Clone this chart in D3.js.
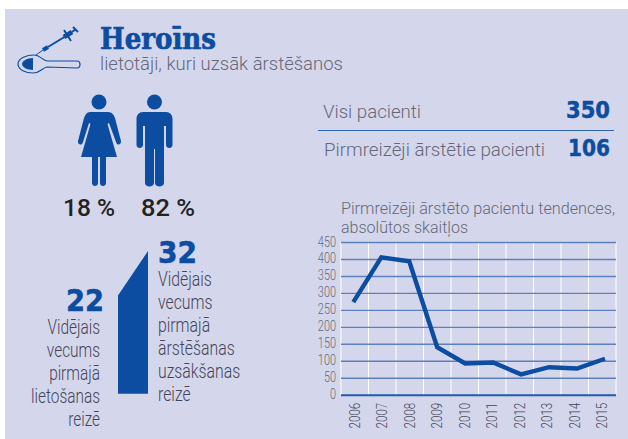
<!DOCTYPE html>
<html><head><meta charset="utf-8">
<script src="https://cdn.jsdelivr.net/npm/d3@7/dist/d3.min.js"></script>
<style>html,body{margin:0;padding:0;background:#fff}svg{display:block}text{font-family:Roboto,sans-serif}</style>
</head><body><div id="c"></div>
<script>
const years=["2006","2007","2008","2009","2010","2011","2012","2013","2014","2015"];
const patients=[273,405,393,140,92,95,60,81,77,106];
const yTicks=[0,50,100,150,200,250,300,350,400,450];
const ages=[22,32];
const ageLabelLeft=["Vidējais","vecums","pirmajā","lietošanas","reizē"];
const ageLabelRight=["Vidējais","vecums","pirmajā","ārstēšanas","uzsākšanas","reizē"];
const shares=["18 %","82 %"];
const totals=[{label:"Visi pacienti",value:"350"},{label:"Pirmreizēji ārstētie pacienti",value:"106"}];
const chartTitle=["Pirmreizēji ārstēto pacientu tendences,","absolūtos skaitļos"];

const BLUE="#0c4da2",BG="#d4d7eb",GREY="#66687a";
const svg=d3.select("#c").append("svg").attr("width",628).attr("height",439);
svg.append("rect").attr("x",5).attr("y",9).attr("width",623).attr("height",430).attr("fill",BG);

function t(x,y,s,o={}){const e=svg.append("text").text(s)
 .attr("font-size",o.size||16).attr("fill",o.fill||GREY).attr("font-weight",o.weight||300)
 .attr("text-anchor",o.anchor||"start");
 if(o.sx)e.attr("transform",`translate(${x},${y}) scale(${o.sx},1)`);else e.attr("x",x).attr("y",y);
 if(o.family)e.style("font-family",o.family);
 if(o.len)e.attr("textLength",o.len).attr("lengthAdjust","spacingAndGlyphs");
 if(o.stroke)e.attr("stroke",o.fill).attr("stroke-width",o.stroke);
 return e;}

// header
t(100,49,"Heroīns",{size:30,weight:700,fill:BLUE,family:'"DejaVu Serif",serif',len:116,stroke:.7});
t(100,70,"lietotāji, kuri uzsāk ārstēšanos",{size:18,len:243});

// syringe and spoon icon
const ic=svg.append("g").attr("fill","none").attr("stroke",BLUE);
ic.append("path").attr("stroke-width",1).attr("d","M36 55L43 50");
ic.append("path").attr("stroke-width",4).attr("d","M43 50L48 47");
ic.append("path").attr("stroke-width",2).attr("d","M48 47L66 36");
ic.append("path").attr("stroke-width",5).attr("d","M64 37L72 32");
ic.append("path").attr("stroke-width",2).attr("d","M64 30L71 41M72 32L76 29M73 27L78 32");
ic.append("path").attr("stroke-width",1.2).attr("fill",BG)
 .attr("d","M18 64C18 58 27 55 34 55C40 55 42 60 47 61L77 61C81 61 81 68 77 68L47 67C42 68 40 73 33 73C26 73 18 70 18 64Z");
svg.append("path").attr("fill",BLUE).attr("d","M33 58C27 58 22 61 22 64C22 67 27 70 33 70Z");

// people
const head=[[99,102],[154.5,102]];
svg.selectAll("circle.h").data(head).join("circle").attr("cx",d=>d[0]).attr("cy",d=>d[1]).attr("r",7.5).attr("fill",BLUE);
svg.append("path").attr("fill",BLUE).attr("d","M90 112L108 112C112 112 114 115 115 118L121 141C121.500 145 117 146 116 142L109 123L107.500 124L117 157L106 157L106 183C106 187 100 187 100 183L100 157L98 157L98 183C98 187 92 187 92 183L92 157L81 157L90.500 124L89 123L83 142C82 146 77.500 145 78 141L84 118C85 115 87 112 90 112Z");
svg.append("path").attr("fill",BLUE).attr("d","M143 112L166 112C170 112 172.500 115 172.500 119L172.500 145C172.500 149 166 149 166 145L166 126L164 126L164 183C164 187.500 155 187.500 155 183L155 149L154 149L154 183C154 187.500 145 187.500 145 183L145 126L143 126L143 145C143 149 136.500 149 136.500 145L136.500 119C136.500 115 139 112 143 112Z");
t(89,215.500,shares[0],{size:24,weight:500,fill:"#222",anchor:"middle",len:52});
t(168,215.500,shares[1],{size:24,weight:500,fill:"#222",anchor:"middle",len:54});

// age shape
const ageY=d3.scaleLinear().domain([0,32]).range([393.7,251]);
svg.append("path").attr("fill",BLUE).datum(ages)
 .attr("d",d=>d3.line()([[118,ageY(0)],[118,ageY(d[0])],[148,ageY(d[1])],[148,ageY(0)]])+"Z");
t(104,310.500,ages[0],{size:30,weight:700,fill:BLUE,anchor:"end",family:'"DejaVu Sans",sans-serif',len:38,stroke:.6});
t(158,262.500,ages[1],{size:30,weight:700,fill:BLUE,family:'"DejaVu Sans",sans-serif',len:39,stroke:.6});
ageLabelLeft.forEach((s,i)=>t(100,334+i*22.9,s,{size:19.500,weight:300,sx:.79,anchor:"end",fill:"#44455a"}));
ageLabelRight.forEach((s,i)=>t(158,286+i*23,s,{size:19.500,weight:300,sx:.81,fill:"#44455a"}));

// totals
svg.append("line").attr("x1",318).attr("x2",614).attr("y1",130.500).attr("y2",130.500).attr("stroke","#2f66b3").attr("stroke-width",1);
t(323,118,totals[0].label,{size:18,len:98});
t(324,156,totals[1].label,{size:18,len:221});
t(610,118,totals[0].value,{size:23.500,weight:700,fill:BLUE,anchor:"end",family:'"DejaVu Sans",sans-serif',len:44,stroke:.5});
t(610,156,totals[1].value,{size:23.500,weight:700,fill:BLUE,anchor:"end",family:'"DejaVu Sans",sans-serif',len:42,stroke:.5});

// chart
chartTitle.forEach((s,i)=>t(341,214+i*19,s,{size:16,len:i?127:274}));
const L=341,R=616,T=242,B=394.700;
const x=d3.scaleBand().domain(years).range([L,R]);
const xLine=d3.scalePoint().domain(years).range([353.300,605]);
const y=d3.scaleLinear().domain([0,450]).range([B,T]);
const g=svg.append("g");
// vertical white rules
g.selectAll("line.v").data(years.map(d=>x(d)).concat([R])).join("line")
 .attr("x1",d=>d).attr("x2",d=>d).attr("y1",T).attr("y2",B).attr("stroke","#fff").attr("stroke-width",1);
const ya=g.append("g").attr("transform",`translate(${L},0)`)
 .call(d3.axisLeft(y).tickValues(yTicks).tickSize(-(R-L)).tickPadding(5));
ya.select(".domain").remove();
ya.selectAll(".tick line").attr("stroke","#5a80bd").attr("stroke-width",1.4);
ya.selectAll(".tick").filter(d=>d===0).select("line").attr("stroke","#1f5cab").attr("stroke-width",2);
ya.selectAll("text").attr("fill",GREY).attr("font-size",14).attr("font-weight",300).style("font-family","Roboto,sans-serif")
 .attr("x",0).attr("dy",0).attr("dominant-baseline","central").attr("transform","translate(-5,-1) scale(.78,1)");
const xa=g.append("g").attr("transform",`translate(0,${B})`).call(d3.axisBottom(x).tickSize(0));
xa.select(".domain").remove();
xa.selectAll("text").attr("fill","#44455a").attr("font-size",14.500).attr("font-weight",300).style("font-family","Roboto,sans-serif")
 .attr("text-anchor","end").attr("dy",0).attr("dominant-baseline","central")
 .attr("transform","translate(0,8) rotate(-90) scale(.8,1)").attr("x",0).attr("y",0);
g.append("path").datum(patients).attr("fill","none").attr("stroke",BLUE).attr("stroke-width",4.4)
 .attr("stroke-linejoin","miter")
 .attr("d",d3.line().x((d,i)=>xLine(years[i])).y(d=>y(d)));
</script></body></html>
